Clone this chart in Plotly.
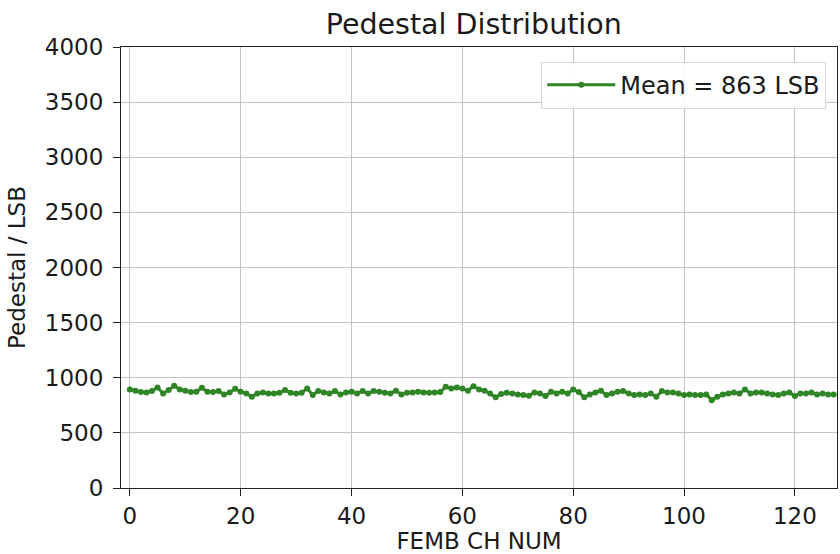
import plotly.graph_objects as go

# Pedestal per FEMB channel (LSB)
channels = list(range(128))
pedestal = [
    894, 882, 870, 867, 879, 912, 858, 888, 927, 894,
    882, 870, 873, 909, 873, 870, 879, 849, 867, 900,
    873, 858, 828, 858, 867, 858, 858, 864, 888, 864,
    858, 864, 903, 843, 879, 867, 858, 879, 849, 867,
    873, 858, 879, 858, 879, 873, 864, 858, 882, 849,
    864, 867, 873, 867, 864, 867, 870, 918, 903, 912,
    903, 882, 924, 894, 882, 858, 822, 852, 864, 858,
    849, 843, 837, 867, 858, 834, 873, 858, 873, 858,
    894, 870, 822, 849, 867, 882, 843, 858, 873, 879,
    858, 843, 849, 843, 858, 828, 879, 867, 867, 858,
    843, 849, 843, 843, 849, 797, 828, 849, 858, 867,
    858, 894, 858, 867, 867, 858, 849, 843, 858, 867,
    834, 858, 858, 867, 849, 858, 849, 849,
]
mean_label = "Mean = 863 LSB"
x_ticks = [0, 20, 40, 60, 80, 100, 120]
y_ticks = [0, 500, 1000, 1500, 2000, 2500, 3000, 3500, 4000]

green = "#2f8526"
font = "DejaVu Sans"

fig = go.Figure()
fig.add_trace(go.Scatter(
    x=channels, y=pedestal, mode="lines+markers",
    name=mean_label,
    line=dict(color=green, width=3),
    marker=dict(color=green, size=6),
))

axis_common = dict(
    showline=True, linecolor="#222222", linewidth=1.2, mirror=True,
    showgrid=True, gridcolor="#c4c4c4", gridwidth=1,
    ticks="outside", ticklen=7, tickcolor="#222222",
    tickfont=dict(family=font, size=23, color="#1a1a1a"),
    zeroline=False,
)

fig.update_layout(
    width=840, height=554,
    margin=dict(l=121, r=3, t=47, b=66),
    paper_bgcolor="white", plot_bgcolor="white",
    title=dict(text="Pedestal Distribution", x=0.564, xanchor="center",
               xref="container", y=0.957, yanchor="middle",
               font=dict(family=font, size=28.5, color="#1a1a1a")),
    xaxis=dict(range=[-1.6, 127.6], tickvals=x_ticks, ticklabelstandoff=0,
               title=dict(text="FEMB CH NUM", standoff=2,
                          font=dict(family=font, size=23, color="#1a1a1a")),
               **axis_common),
    yaxis=dict(range=[0, 4000], tickvals=y_ticks, ticklabelstandoff=5,
               title=dict(text="Pedestal / LSB", standoff=12,
                          font=dict(family=font, size=23, color="#1a1a1a")),
               **axis_common),
    legend=dict(x=0.985, y=0.967, xanchor="right", yanchor="top",
                bgcolor="rgba(255,255,255,0.9)", bordercolor="#d8d8d8",
                borderwidth=1, itemwidth=68,
                font=dict(family=font, size=24, color="#1a1a1a")),
    showlegend=True,
)

fig.write_html("out.html")
